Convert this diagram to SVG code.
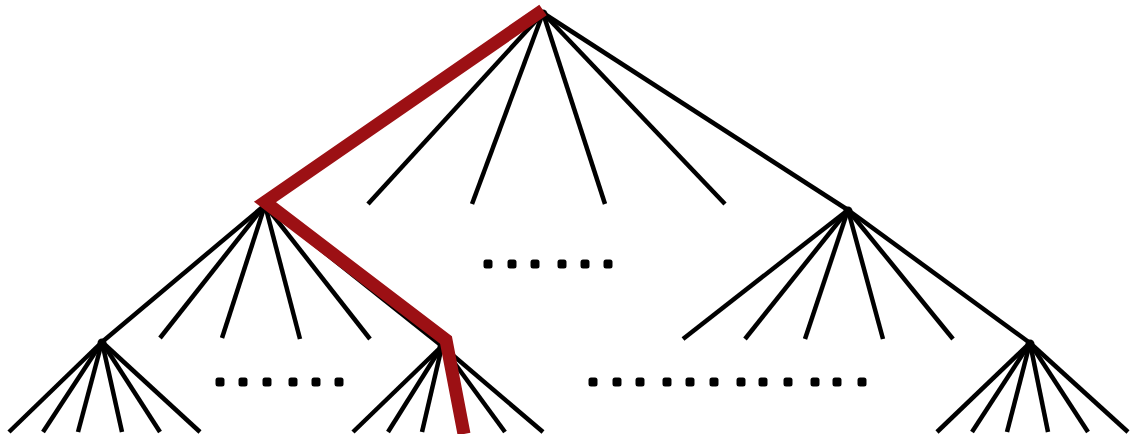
<svg xmlns="http://www.w3.org/2000/svg" width="1131" height="434" viewBox="0 0 1131 434">
<style>
.e{stroke:#000;stroke-width:4.5;fill:none;stroke-linecap:butt}
.hl{stroke:#9c1014;stroke-width:13;fill:none;stroke-linejoin:miter;stroke-linecap:butt}
.n{fill:#000}
.d{fill:#000}
</style>
<defs>
<rect id="dot" x="-4.5" y="-4.5" width="9" height="9" rx="2.5"/>
</defs>
<rect width="1131" height="434" fill="#fff"/>
<g id="connectors">
<line class="e" x1="543" y1="13" x2="265" y2="205"/>
<line class="e" x1="543" y1="13" x2="368" y2="204"/>
<line class="e" x1="543" y1="13" x2="472" y2="204"/>
<line class="e" x1="543" y1="13" x2="605" y2="204"/>
<line class="e" x1="543" y1="13" x2="725" y2="204"/>
<line class="e" x1="543" y1="13" x2="848" y2="210"/>
<line class="e" x1="265" y1="205" x2="102" y2="342"/>
<line class="e" x1="265" y1="205" x2="160" y2="338"/>
<line class="e" x1="265" y1="205" x2="222" y2="338"/>
<line class="e" x1="265" y1="205" x2="300" y2="339"/>
<line class="e" x1="265" y1="205" x2="370" y2="339"/>
<line class="e" x1="265" y1="205" x2="442" y2="346"/>
<line class="e" x1="848" y1="210" x2="683" y2="339"/>
<line class="e" x1="848" y1="210" x2="745" y2="339"/>
<line class="e" x1="848" y1="210" x2="805" y2="339"/>
<line class="e" x1="848" y1="210" x2="883" y2="339"/>
<line class="e" x1="848" y1="210" x2="953" y2="339"/>
<line class="e" x1="848" y1="210" x2="1030" y2="343"/>
<line class="e" x1="102" y1="342" x2="9" y2="432"/>
<line class="e" x1="102" y1="342" x2="43" y2="432"/>
<line class="e" x1="102" y1="342" x2="78" y2="432"/>
<line class="e" x1="102" y1="342" x2="122" y2="432"/>
<line class="e" x1="102" y1="342" x2="160" y2="432"/>
<line class="e" x1="102" y1="342" x2="200" y2="432"/>
<line class="e" x1="442" y1="346" x2="353" y2="432"/>
<line class="e" x1="442" y1="346" x2="388" y2="432"/>
<line class="e" x1="442" y1="346" x2="422" y2="432"/>
<line class="e" x1="442" y1="346" x2="505" y2="432"/>
<line class="e" x1="442" y1="346" x2="543" y2="432"/>
<line class="e" x1="1030" y1="343" x2="937" y2="432"/>
<line class="e" x1="1030" y1="343" x2="972" y2="432"/>
<line class="e" x1="1030" y1="343" x2="1007" y2="432"/>
<line class="e" x1="1030" y1="343" x2="1048" y2="432"/>
<line class="e" x1="1030" y1="343" x2="1088" y2="432"/>
<line class="e" x1="1030" y1="343" x2="1128" y2="432"/>
</g>
<g id="root"><circle class="n" cx="543" cy="14" r="4.5"/></g>
<g id="node-L"><circle class="n" cx="265" cy="206" r="4.5"/></g>
<g id="node-R"><circle class="n" cx="848" cy="211" r="4.5"/></g>
<g id="node-BL"><circle class="n" cx="102" cy="343" r="4.5"/></g>
<g id="node-M"><circle class="n" cx="442" cy="347" r="4.5"/></g>
<g id="node-BR"><circle class="n" cx="1030" cy="344" r="4.5"/></g>
<g id="highlight-path">
<polyline class="hl" points="543,10 265,202 446,340 464,434"/>
</g>
<g id="ellipsis-mid" class="d">
<use href="#dot" x="488" y="264"/><use href="#dot" x="512" y="264"/><use href="#dot" x="535" y="264"/><use href="#dot" x="562" y="264"/><use href="#dot" x="585" y="264"/><use href="#dot" x="608" y="264"/>
</g>
<g id="ellipsis-left" class="d">
<use href="#dot" x="220" y="382"/><use href="#dot" x="243" y="382"/><use href="#dot" x="267" y="382"/><use href="#dot" x="293" y="382"/><use href="#dot" x="316" y="382"/><use href="#dot" x="339" y="382"/>
</g>
<g id="ellipsis-right" class="d">
<use href="#dot" x="593" y="382"/><use href="#dot" x="617" y="382"/><use href="#dot" x="640" y="382"/><use href="#dot" x="667" y="382"/><use href="#dot" x="690" y="382"/><use href="#dot" x="714" y="382"/><use href="#dot" x="741" y="382"/><use href="#dot" x="763" y="382"/><use href="#dot" x="788" y="382"/><use href="#dot" x="815" y="382"/><use href="#dot" x="837" y="382"/><use href="#dot" x="862" y="382"/>
</g>
</svg>
